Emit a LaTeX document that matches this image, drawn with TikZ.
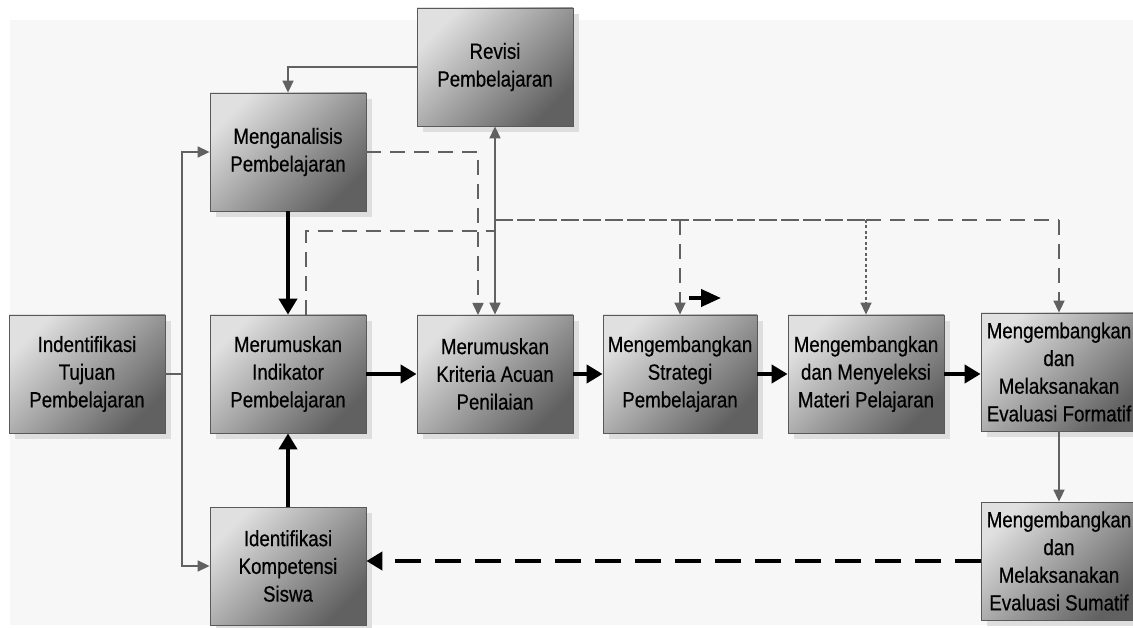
\documentclass[tikz,border=0pt]{standalone}
\usepackage{fontspec}
\setmainfont{Liberation Sans}[FakeStretch=0.85,FakeBold=0.5]
\usetikzlibrary{arrows.meta,shadows}
\begin{document}
\begin{tikzpicture}[x=1pt,y=-1pt,
  box/.style={draw=black!65, line width=0.8pt, top color=black!12, bottom color=black!62,
    shading angle=45, minimum width=156pt, minimum height=118pt, inner sep=0pt,
    align=center, font=\fontsize{22}{27.7}\selectfont,
    drop shadow={shadow xshift=6pt, shadow yshift=-6pt, fill=black!13, opacity=1}},
  gtip/.tip={Triangle[length=12pt,width=11pt]},
  btip/.tip={Triangle[length=16pt,width=18pt]},
  grayarrow/.style={draw=black!62, line width=1.6pt, -gtip},
  grayline/.style={draw=black!62, line width=1.6pt},
  thickarrow/.style={draw=black, line width=4pt, -btip},
  thickdash/.style={draw=black, line width=4pt, dash pattern=on 26pt off 14pt, -btip},
  graydash/.style={draw=black!62, line width=1.6pt, dash pattern=on 15pt off 9pt},
  densedash/.style={draw=black!62, line width=1.6pt, dash pattern=on 18pt off 4pt},
  graydot/.style={draw=black!62, line width=1.6pt, dash pattern=on 3pt off 2.5pt},
]
\useasboundingbox (0,0) rectangle (1133,628);
\clip (0,0) rectangle (1133,628);
\fill[black!3] (10,20) rectangle (1133,625);

\node[box] (rev) at (495,67) {Revisi\\Pembelajaran};
\node[box] (ana) at (288,152) {Menganalisis\\Pembelajaran};
\node[box] (tuj) at (87,374) {Indentifikasi\\Tujuan\\Pembelajaran};
\node[box] (ind) at (288,374) {Merumuskan\\Indikator\\Pembelajaran};
\node[box] (kri) at (495,374) {Merumuskan\\Kriteria Acuan\\Penilaian};
\node[box, minimum width=154pt] (str) at (680,374) {Mengembangkan\\Strategi\\Pembelajaran};
\node[box] (mat) at (866,374) {Mengembangkan\\dan Menyeleksi\\Materi Pelajaran};
\node[box] (for) at (1059,372) {Mengembangkan\\dan\\Melaksanakan\\Evaluasi Formatif};
\node[box] (sum) at (1059,561) {Mengembangkan\\dan\\Melaksanakan\\Evaluasi Sumatif};
\node[box] (kom) at (288,566) {Identifikasi\\Kompetensi\\Siswa};

% revisi -> menganalisis
\draw[grayarrow] (rev.west) -| (ana.north);
% tujuan -> menganalisis, kompetensi
\coordinate (j1) at (182,374);
\draw[grayline] (tuj.east) -- (j1);
\draw[grayarrow] (j1) |- (ana.west);
\draw[grayarrow] (j1) |- (kom.west);
% thick main flow
\draw[thickarrow] (ana) -- (ind);
\draw[thickarrow] (kom) -- (ind);
\draw[thickarrow] (ind) -- (kri);
\draw[thickarrow] (kri) -- (str);
\draw[thickarrow] (str) -- (mat);
\draw[thickarrow] (mat.east) -- (mat.east -| for.west);
\draw[grayarrow] (for) -- (sum);
\draw[thickdash] (sum.west) -- (sum.west -| kom.east);

% revisi <-> kriteria
\draw[grayline, gtip-gtip] (kri.north) -- (rev.south);
% menganalisis -> kriteria dashed
\coordinate (kd) at (478,315);
\draw[graydash, -gtip] (ana.east) -| (kd);
% indikator dashed up
\coordinate (i1) at (306,315);
\coordinate (i2) at (495,231);
\draw[graydash] (i1) |- (i2);

% horizontal feedback line
\coordinate (h0) at (495,220);
\coordinate (h1) at (866,220);
\coordinate (h2) at (1059,220);
\draw[densedash] (h0) -- (h1);
\draw[graydash] (h1) -- (h2);
\draw[graydash, -gtip] (str.north |- h0) -- (str.north);
\draw[graydot, -gtip] (h1) -- (mat.north);
\draw[graydash, -gtip] (h2) -- (for.north);

% stray small arrow
\coordinate (s1) at (689,298);
\coordinate (s2) at (721,298);
\draw[draw=black, line width=4pt, -{Triangle[length=20pt,width=17pt]}] (s1) -- (s2);
\end{tikzpicture}
\end{document}
